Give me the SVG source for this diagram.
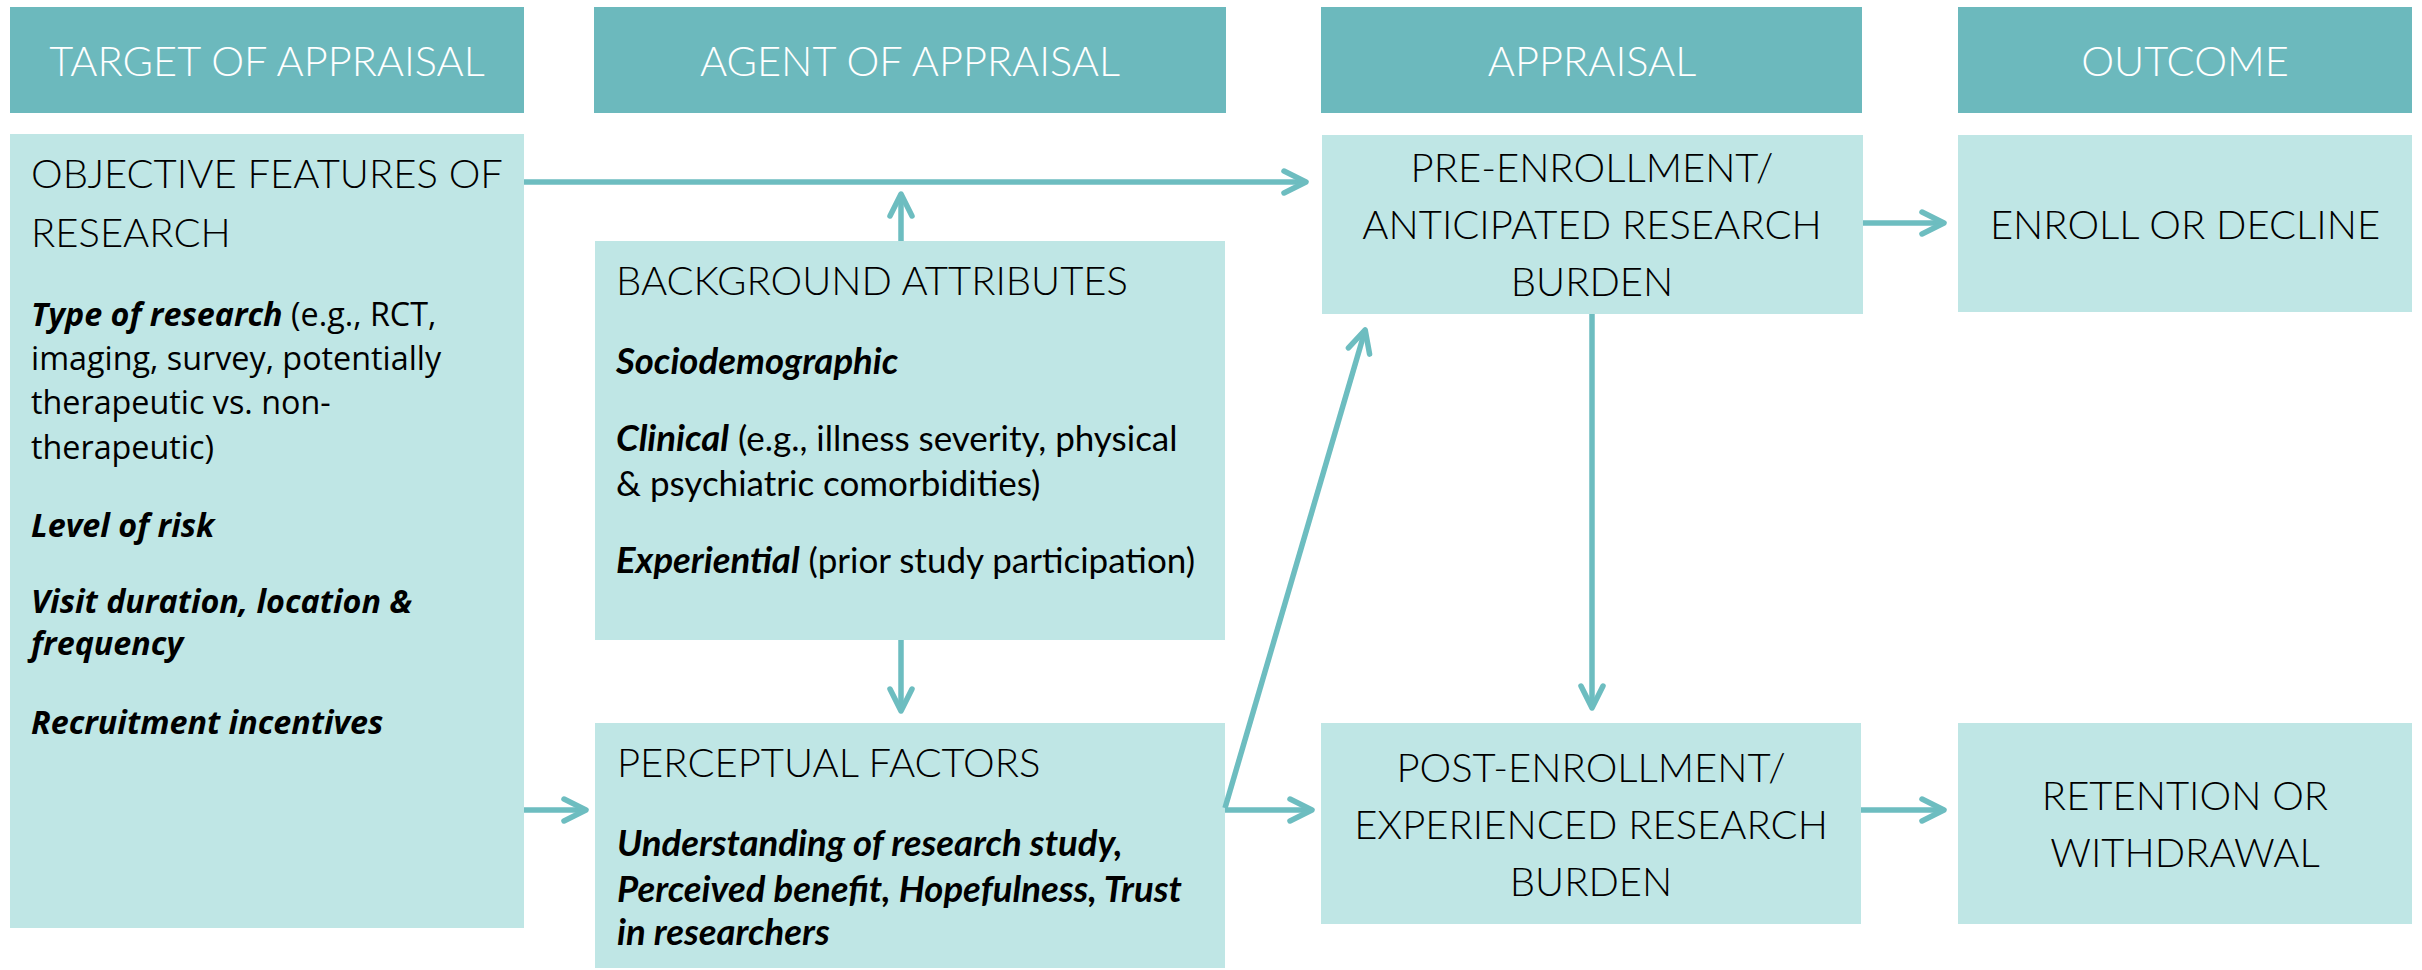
<svg xmlns="http://www.w3.org/2000/svg" width="2422" height="970" viewBox="0 0 2422 970">
  <defs>
    <style>
      .hdr { fill: #6CB9BD; }
      .box { fill: #BFE6E5; }
      .hdr-t { font-family: Lato, "Liberation Sans", sans-serif; font-weight: 300; font-size: 41.5px; fill: #FFFFFF; text-anchor: middle; }
      .ttl { font-family: Lato, "Liberation Sans", sans-serif; font-weight: 300; font-size: 40px; fill: #000000; }
      .mid { text-anchor: middle; }
      .body { font-family: Lato, "Liberation Sans", sans-serif; font-weight: 400; font-size: 35px; fill: #000000; }
      .body .bi, .body.bi { font-size: 36.5px; }
      .seg { font-family: "Open Sans", "Liberation Sans", sans-serif; font-weight: 400; font-size: 32.3px; fill: #000000; }
      .bi { font-weight: 700; font-style: italic; }
      .conn { fill: none; stroke: #6DBDC0; stroke-width: 5.5; marker-end: url(#chev); }
    </style>
    <marker id="chev" viewBox="-30 -16 34 32" refX="0" refY="0" markerWidth="34" markerHeight="32" markerUnits="userSpaceOnUse" orient="auto">
      <path d="M-22,-11 L0,0 L-22,11" fill="none" stroke="#6DBDC0" stroke-width="5.5" stroke-linecap="round" stroke-linejoin="round"/>
    </marker>
  </defs>

  <rect width="2422" height="970" fill="#FFFFFF"/>

  <!-- column headers -->
  <g id="hdr-target">
    <rect class="hdr" x="10" y="7" width="514" height="106"/>
    <text class="hdr-t" x="267" y="76">TARGET OF APPRAISAL</text>
  </g>
  <g id="hdr-agent">
    <rect class="hdr" x="594" y="7" width="632" height="106"/>
    <text class="hdr-t" x="910" y="76">AGENT OF APPRAISAL</text>
  </g>
  <g id="hdr-appraisal">
    <rect class="hdr" x="1321" y="7" width="541" height="106"/>
    <text class="hdr-t" x="1592" y="76">APPRAISAL</text>
  </g>
  <g id="hdr-outcome">
    <rect class="hdr" x="1958" y="7" width="454" height="106"/>
    <text class="hdr-t" x="2185" y="76">OUTCOME</text>
  </g>

  <!-- target of appraisal -->
  <g id="objective">
    <rect class="box" x="10" y="134" width="514" height="794"/>
    <text class="ttl" x="31" y="188">OBJECTIVE FEATURES OF</text>
    <text class="ttl" x="31" y="247">RESEARCH</text>
    <text class="seg" x="31" y="326"><tspan class="bi">Type of research</tspan> (e.g., RCT,</text>
    <text class="seg" x="31" y="370">imaging, survey, potentially</text>
    <text class="seg" x="31" y="414">therapeutic vs. non-</text>
    <text class="seg" x="31" y="459">therapeutic)</text>
    <text class="seg bi" x="31" y="537">Level of risk</text>
    <text class="seg bi" x="31" y="613">Visit duration, location &amp;</text>
    <text class="seg bi" x="31" y="655">frequency</text>
    <text class="seg bi" x="31" y="734">Recruitment incentives</text>
  </g>

  <!-- agent of appraisal -->
  <g id="background">
    <rect class="box" x="595" y="241" width="630" height="399"/>
    <text class="ttl" x="616" y="295">BACKGROUND ATTRIBUTES</text>
    <text class="body bi" x="616" y="374">Sociodemographic</text>
    <text class="body" x="616" y="451"><tspan class="bi">Clinical</tspan> (e.g., illness severity, physical</text>
    <text class="body" x="616" y="496">&amp; psychiatric comorbidities)</text>
    <text class="body" x="616" y="573"><tspan class="bi">Experiential</tspan> (prior study participation)</text>
  </g>
  <g id="perceptual">
    <rect class="box" x="595" y="723" width="630" height="245"/>
    <text class="ttl" x="617" y="777">PERCEPTUAL FACTORS</text>
    <text class="body bi" x="617" y="856">Understanding of research study,</text>
    <text class="body bi" x="617" y="902">Perceived benefit, Hopefulness, Trust</text>
    <text class="body bi" x="617" y="945">in researchers</text>
  </g>

  <!-- appraisal -->
  <g id="pre-enrollment">
    <rect class="box" x="1322" y="135" width="541" height="179"/>
    <text class="ttl mid" x="1592" y="182">PRE-ENROLLMENT/</text>
    <text class="ttl mid" x="1592" y="239">ANTICIPATED RESEARCH</text>
    <text class="ttl mid" x="1592" y="296">BURDEN</text>
  </g>
  <g id="post-enrollment">
    <rect class="box" x="1321" y="723" width="540" height="201"/>
    <text class="ttl mid" x="1591" y="782">POST-ENROLLMENT/</text>
    <text class="ttl mid" x="1591" y="839">EXPERIENCED RESEARCH</text>
    <text class="ttl mid" x="1591" y="896">BURDEN</text>
  </g>

  <!-- outcome -->
  <g id="enroll">
    <rect class="box" x="1958" y="135" width="454" height="177"/>
    <text class="ttl mid" x="2185" y="239">ENROLL OR DECLINE</text>
  </g>
  <g id="retention">
    <rect class="box" x="1958" y="723" width="454" height="201"/>
    <text class="ttl mid" x="2185" y="810">RETENTION OR</text>
    <text class="ttl mid" x="2185" y="867">WITHDRAWAL</text>
  </g>

  <!-- connectors -->
  <g id="connectors">
    <path class="conn" d="M524,182 H1306"/>
    <path class="conn" d="M901,241 V194"/>
    <path class="conn" d="M901,640 V711"/>
    <path class="conn" d="M524,810 H586"/>
    <path class="conn" d="M1225,810 H1312"/>
    <path class="conn" d="M1225,808 L1365.2,329.9"/>
    <path class="conn" d="M1592,314 V708"/>
    <path class="conn" d="M1863,223 H1944"/>
    <path class="conn" d="M1861,810 H1944"/>
  </g>
</svg>
